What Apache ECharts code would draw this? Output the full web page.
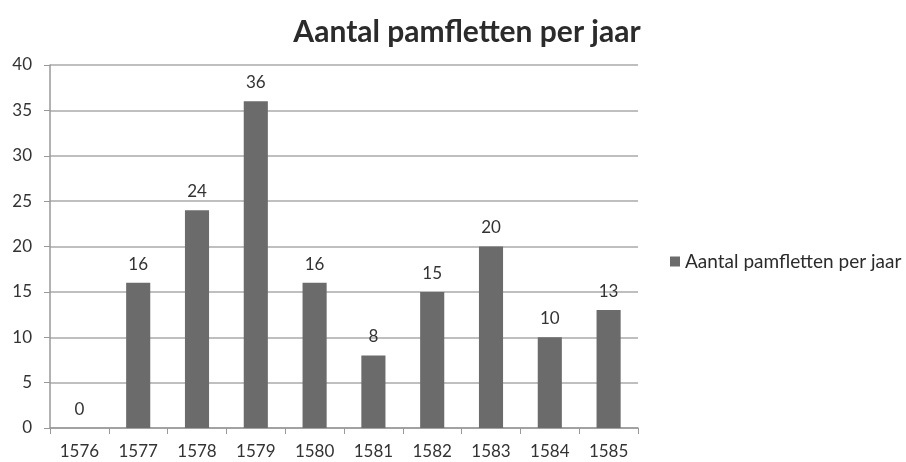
<!DOCTYPE html>
<html><head><meta charset="utf-8">
<script src="https://cdn.jsdelivr.net/npm/echarts@6/dist/echarts.min.js"></script>
<style>html,body{margin:0;padding:0;background:#fff}#c{width:906px;height:462px}</style>
</head><body><div id="c"></div>
<script>
const categories = ['1576','1577','1578','1579','1580','1581','1582','1583','1584','1585'];
const values = [0,16,24,36,16,8,15,20,10,13];
const seriesName = 'Aantal pamfletten per jaar';
const titleText = 'Aantal pamfletten per jaar';
const ff = 'Lato, "Open Sans", sans-serif';
const chart = echarts.init(document.getElementById('c'));
chart.setOption({
  animation:false,
  backgroundColor:'#fff',
  title:{text:titleText,left:462,top:12,textAlign:'center',textStyle:{fontFamily:ff,fontSize:30,fontWeight:'bold',color:'#2b2b2b'}},
  legend:{data:[seriesName],left:665,top:247,itemWidth:10,itemHeight:10,itemGap:5,icon:'rect',textStyle:{fontFamily:ff,fontSize:19,color:'#2b2b2b'}},
  grid:{left:50,right:268,top:65,bottom:34,containLabel:false},
  xAxis:{type:'category',data:categories,boundaryGap:true,
    axisLine:{lineStyle:{color:'#999',width:1.5}},
    axisTick:{show:true,alignWithLabel:false,length:6,lineStyle:{color:'#999'}},
    axisLabel:{fontFamily:ff,fontSize:17,color:'#333',margin:15}},
  yAxis:{type:'value',min:0,max:40,interval:5,
    axisLine:{show:true,lineStyle:{color:'#999',width:1.5}},
    axisTick:{show:true,length:6,lineStyle:{color:'#999'}},
    splitLine:{lineStyle:{color:'#aaa',width:1.5}},
    axisLabel:{fontFamily:ff,fontSize:17,color:'#333',margin:18}},
  series:[{name:seriesName,type:'bar',data:values,barWidth:'41%',
    itemStyle:{color:'#6b6b6b'},
    label:{show:true,position:'top',distance:10,fontFamily:ff,fontSize:17,color:'#333'}}]
});
</script></body></html>
